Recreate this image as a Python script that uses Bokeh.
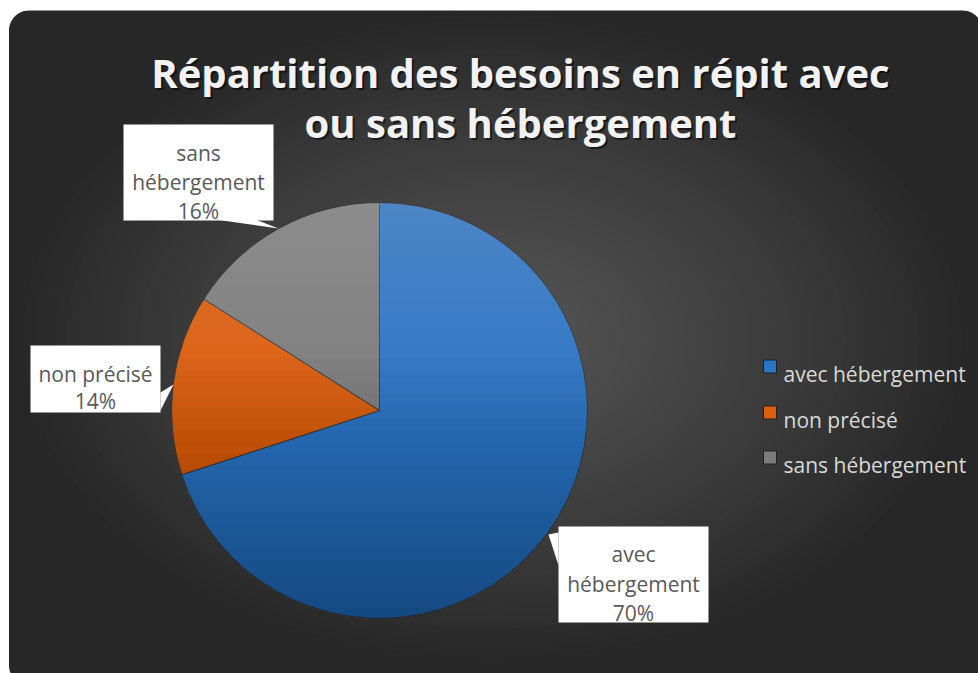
import numpy as np
from bokeh.plotting import figure
from bokeh.models import ColumnDataSource, Range1d
from bokeh.core.properties import value
from bokeh.embed import file_html
from bokeh.resources import INLINE

# ---------------- data ----------------
categories = ["avec hébergement", "non précisé", "sans hébergement"]
shares = [70, 14, 16]
label_lines = [["avec", "hébergement"], ["non précisé"], ["sans", "hébergement"]]
colors = ["#2b75c6", "#dc5f0e", "#7c7c7c"]
title_lines = ["Répartition des besoins en répit avec", "ou sans hébergement"]

# ---------------- layout ----------------
W, H = 978, 673


def fx(x):
    return x


def fy(y):
    return H - y


FONT = value("Open Sans")

p = figure(width=W, height=H, x_range=Range1d(0, W), y_range=Range1d(0, H),
           output_backend="svg", toolbar_location=None, min_border=0)
p.axis.visible = False
p.grid.visible = False
p.outline_line_color = None
p.background_fill_color = "white"
p.border_fill_color = "white"


def rounded_rect(x0, y0, x1, y1, r, n=14):
    xs, ys = [], []
    corners = [(x1 - r, y1 - r, 0), (x0 + r, y1 - r, 90), (x0 + r, y0 + r, 180), (x1 - r, y0 + r, 270)]
    for cx, cy, a0 in corners:
        for a in np.linspace(np.radians(a0), np.radians(a0 + 90), n):
            xs.append(cx + r * np.cos(a))
            ys.append(cy + r * np.sin(a))
    return xs, ys


# dark chart area
bx, by = rounded_rect(fx(8.5), -12, fx(982), fy(10), 20)
p.patch(bx, by, fill_color="#272727", line_color=None)


def hex2rgb(h):
    return np.array([int(h[i:i + 2], 16) for i in (1, 3, 5)], dtype=float)


# radial gradient (nested ellipses)
edge_c, center_c = hex2rgb("#272727"), hex2rgb("#565656")
NG = 45
gx, gy = fx(492), fy(338)
amax, bmax = 480, 326
ts = np.linspace(0, 1, NG)
gcols = []
for t in ts:
    c = edge_c + (center_c - edge_c) * (t ** 0.9)
    gcols.append("#%02x%02x%02x" % tuple(int(round(v)) for v in c))
gsrc = ColumnDataSource(dict(x=[gx] * NG, y=[gy] * NG,
                             w=list(2 * amax * (1 - 0.97 * ts)),
                             h=list(2 * bmax * (1 - 0.97 * ts)),
                             c=gcols))
p.ellipse(x="x", y="y", width="w", height="h", fill_color="c", line_color=None, source=gsrc)

# ---------------- pie ----------------
CX, CY, R = fx(379), fy(410), 208
fr = np.array(shares, dtype=float) / sum(shares)
cum = np.concatenate([[0.0], np.cumsum(fr)])
start = np.pi / 2 - 2 * np.pi * cum[:-1]
end = np.pi / 2 - 2 * np.pi * cum[1:]
wsrc = ColumnDataSource(dict(start=start, end=end, color=colors, cat=categories))
p.wedge(x=CX, y=CY, radius=R, start_angle="start", end_angle="end", direction="clock",
        fill_color="color", line_color="#3a3a3a", line_width=1, source=wsrc)

# vertical shading overlay (lighter top, darker bottom)
dark_xs, dark_ys = [], []
for hh in np.linspace(-0.95, 0.25, 22):
    a = np.arcsin(hh)
    th = np.linspace(np.pi - a, 2 * np.pi + a, 80)
    dark_xs.append(list(CX + R * np.cos(th)))
    dark_ys.append(list(CY + R * np.sin(th)))
p.patches(dark_xs, dark_ys, fill_color="black", fill_alpha=0.016, line_color=None)
light_xs, light_ys = [], []
for hh in np.linspace(-0.1, 0.95, 16):
    a = np.arcsin(hh)
    th = np.linspace(a, np.pi - a, 80)
    light_xs.append(list(CX + R * np.cos(th)))
    light_ys.append(list(CY + R * np.sin(th)))
p.patches(light_xs, light_ys, fill_color="white", fill_alpha=0.013, line_color=None)

# ---------------- data labels (callouts) ----------------
boxes = {
    "avec hébergement": dict(box=(558, 526, 708, 622), ptr=[(558, 532), (558, 565), (548, 534)],
                             cx=633, base=[553, 583, 612]),
    "non précisé": dict(box=(30, 345, 160, 412), ptr=[(160, 392), (160, 410), (173, 384)],
                        cx=95, base=[373, 400]),
    "sans hébergement": dict(box=(123, 124, 273, 220), ptr=[(215, 219), (255, 219), (278, 228)],
                             cx=198, base=[152, 181, 210]),
}
for cat, lines, s in zip(categories, label_lines, shares):
    b = boxes[cat]
    x0, y0, x1, y1 = b["box"]
    p.quad(left=fx(x0), right=fx(x1), top=fy(y0), bottom=fy(y1), fill_color="white", line_color=None)
    p.patch([fx(q[0]) for q in b["ptr"]], [fy(q[1]) for q in b["ptr"]], fill_color="white", line_color=None)
    txt = lines + [f"{s}%"]
    p.text(x=[fx(b["cx"])] * len(txt), y=[fy(v) for v in b["base"]], text=txt,
           text_font=FONT, text_font_size="21px", text_color="#595959",
           text_align="center", text_baseline="alphabetic")

# ---------------- title ----------------
tx = fx(520)
tys = [fy(72), fy(122)]
p.text(x=[tx + 2] * 2, y=[v - 2 for v in tys], text=title_lines, text_font=FONT,
       text_font_size="40px", text_font_style="bold", text_color="black", text_alpha=0.55,
       text_align="center", text_baseline="alphabetic")
p.text(x=[tx] * 2, y=tys, text=title_lines, text_font=FONT,
       text_font_size="40px", text_font_style="bold", text_color="#f2f2f2",
       text_align="center", text_baseline="alphabetic")

# ---------------- legend ----------------
leg_rows = [366, 412, 457]
lsrc = ColumnDataSource(dict(x=[fx(769.5)] * 3, y=[fy(v) for v in leg_rows], c=colors,
                             tx=[fx(783)] * 3, ty=[fy(v + 7) for v in leg_rows], t=categories))
p.rect(x="x", y="y", width=13, height=13, fill_color="c", line_color="#202020", line_width=1, source=lsrc)
p.text(x="tx", y="ty", text="t", text_font=FONT, text_font_size="21px", text_color="#d9d9d9",
       text_align="left", text_baseline="alphabetic", source=lsrc)

open("out.html", "w").write(file_html(p, INLINE))
